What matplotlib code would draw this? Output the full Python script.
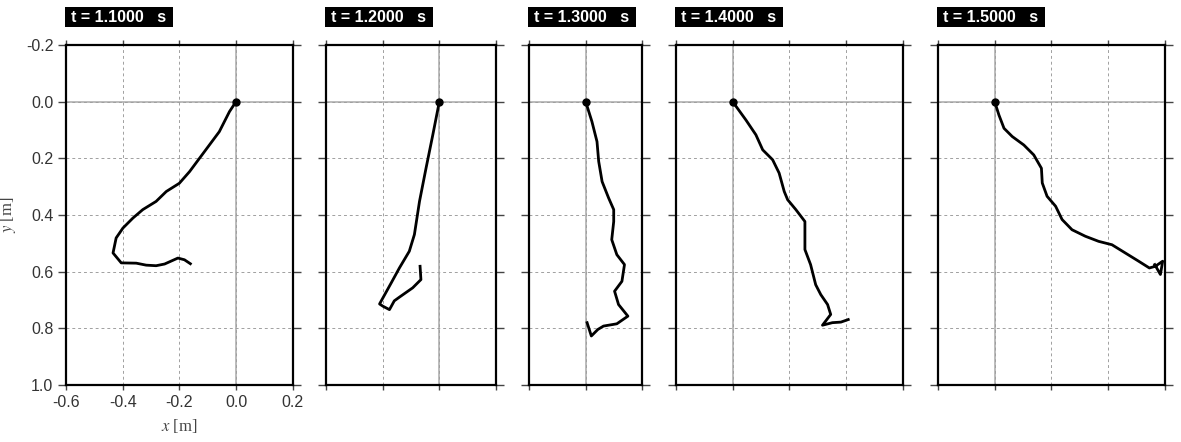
import numpy as np
import matplotlib.pyplot as plt
from matplotlib.patches import Rectangle

plt.rcParams['font.family'] = 'Liberation Sans'
plt.rcParams['mathtext.fontset'] = 'stix'

# frame times
times = [1.1, 1.2, 1.3, 1.4, 1.5]

# trajectories [m]
x1 = [0.0, -0.023, -0.059, -0.094, -0.129, -0.164, -0.200, -0.246, -0.282, -0.329, -0.364,
      -0.399, -0.423, -0.434, -0.405, -0.352, -0.317, -0.282, -0.252, -0.205, -0.182, -0.161]
y1 = [0.0, 0.035, 0.106, 0.153, 0.200, 0.247, 0.288, 0.317, 0.352, 0.381, 0.411,
      0.446, 0.481, 0.534, 0.569, 0.570, 0.577, 0.579, 0.573, 0.552, 0.558, 0.572]

x2 = [0.0, -0.023, -0.047, -0.070, -0.088, -0.106, -0.141, -0.170, -0.211, -0.199,
      -0.176, -0.159, -0.141, -0.094, -0.065, -0.068]
y2 = [0.0, 0.117, 0.235, 0.352, 0.469, 0.528, 0.587, 0.640, 0.714, 0.722,
      0.734, 0.703, 0.690, 0.657, 0.628, 0.581]

x3 = [0.0, 0.022, 0.040, 0.046, 0.058, 0.081, 0.099, 0.099, 0.092, 0.110, 0.137,
      0.128, 0.102, 0.116, 0.149, 0.110, 0.063, 0.043, 0.020, 0.005]
y3 = [0.0, 0.070, 0.141, 0.211, 0.282, 0.340, 0.381, 0.423, 0.487, 0.540, 0.575,
      0.634, 0.669, 0.716, 0.757, 0.784, 0.792, 0.804, 0.827, 0.780]

x4 = [0.0, 0.047, 0.082, 0.106, 0.141, 0.164, 0.182, 0.194, 0.223, 0.255, 0.255,
      0.275, 0.293, 0.311, 0.335, 0.346, 0.317, 0.352, 0.382, 0.408]
y4 = [0.0, 0.065, 0.117, 0.170, 0.205, 0.252, 0.317, 0.346, 0.381, 0.423, 0.522,
      0.575, 0.646, 0.681, 0.716, 0.751, 0.789, 0.780, 0.778, 0.769]

x5 = [0.0, 0.015, 0.033, 0.062, 0.103, 0.138, 0.165, 0.168, 0.185, 0.215, 0.238,
      0.273, 0.320, 0.367, 0.414, 0.461, 0.508, 0.546, 0.567, 0.593, 0.585, 0.565]
y5 = [0.0, 0.047, 0.094, 0.123, 0.153, 0.188, 0.235, 0.287, 0.334, 0.369, 0.416,
      0.452, 0.475, 0.493, 0.505, 0.534, 0.563, 0.587, 0.581, 0.563, 0.610, 0.575]

xs = [x1, x2, x3, x4, x5]
ys = [y1, y2, y3, y4, y5]
xlims = [(-0.6, 0.2), (-0.4, 0.2), (-0.2, 0.2), (-0.2, 0.6), (-0.2, 0.6)]

W, H = 1181, 442
fig = plt.figure(figsize=(W / 100, H / 100), dpi=100)

lefts = [66, 326, 529, 676, 938]   # pixel left edges
top, bottom = 45, 385
scale = (bottom - top) / 1.2       # px per metre

for i in range(5):
    xl = xlims[i]
    w = (xl[1] - xl[0]) * scale
    ax = fig.add_axes([lefts[i] / W, (H - bottom) / H, w / W, (bottom - top) / H])
    ax.set_xlim(xl)
    ax.set_ylim(1.0, -0.2)
    ax.set_xticks(np.arange(xl[0], xl[1] + 0.01, 0.2))
    ax.set_yticks(np.arange(-0.2, 1.01, 0.2))
    ax.grid(True, ls=(0, (3, 3)), color='#a0a0a0', lw=0.7)
    ax.axhline(0, color='#aaaaaa', lw=1.1, zorder=1)
    ax.axvline(0, color='#aaaaaa', lw=1.1, zorder=1)
    for s in ax.spines.values():
        s.set_linewidth(1.6)
    ax.tick_params(axis='y', direction='out', length=6, width=1, color='#444444',
                   left=True, right=True, labelsize=11.5, labelcolor='#333333', pad=3)
    ax.tick_params(axis='x', direction='out', length=3.5, width=1, color='#444444',
                   bottom=True, top=True, labelsize=11.5, labelcolor='#333333', pad=4)
    if i == 0:
        ax.set_xticklabels([f'{v:.1f}' for v in ax.get_xticks()])
        ax.set_yticklabels([f'{v:.1f}' for v in ax.get_yticks()])
        ax.set_xlabel(r'$x$ [m]', family='Liberation Serif', fontsize=12, color='#444444', labelpad=5)
        ax.set_ylabel(r'$y$ [m]', family='Liberation Serif', fontsize=12, color='#444444', labelpad=6)
    else:
        ax.set_xticklabels([])
        ax.set_yticklabels([])

    ax.plot(xs[i], ys[i], color='black', lw=2, solid_joinstyle='round', zorder=3)
    ax.plot(xs[i][0], ys[i][0], 'o', color='black', ms=5, zorder=4)

    # title box
    bx0 = lefts[i] - 1
    fig.add_artist(Rectangle((bx0 / W, (H - 27) / H), 108 / W, 20 / H,
                             transform=fig.transFigure, facecolor='black', edgecolor='none'))
    fig.text((bx0 + 6) / W, (H - 17) / H, f't = {times[i]:.4f}   s', color='white',
             fontsize=11.5, fontweight='bold', va='center', ha='left')

fig.savefig('out.png', dpi=100)
